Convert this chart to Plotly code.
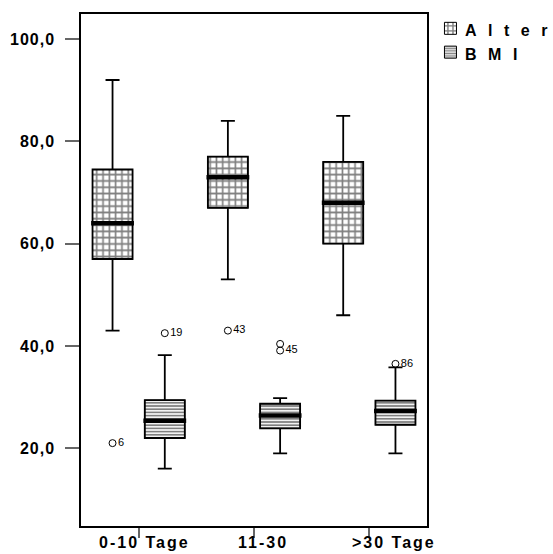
import plotly.graph_objects as go

# Gruppen (Liegedauer) und Kennwerte der Boxplots
groups = ["0-10 Tage", "11-30", ">30 Tage"]
series_names = ["Alter", "BMI"]

alter_lower = [43, 53, 46]
alter_q1 = [57, 67, 60]
alter_median = [64, 73, 68]
alter_q3 = [74.5, 77, 76]
alter_upper = [92, 84, 85]

bmi_lower = [16, 19, 19]
bmi_q1 = [22, 23.9, 24.6]
bmi_median = [25.4, 26.4, 27.3]
bmi_q3 = [29.4, 28.7, 29.3]
bmi_upper = [38.2, 29.8, 35.8]

# Ausreißer: Gruppenindex, Wert, Fallnummer
alter_out_group = [0, 1]
alter_out_value = [21, 43]
alter_out_label = ["6", "43"]

bmi_out_group = [0, 1, 1, 2]
bmi_out_value = [42.5, 40.4, 39.1, 36.5]
bmi_out_label = ["19", "", "45", "86"]

y_tickvals = [20, 40, 60, 80, 100]
y_ticktext = ["20,0", "40,0", "60,0", "80,0", "100,0"]

# Darstellung
FONT = "Liberation Sans"
OFFSET = 0.2265      # Versatz der beiden Boxen je Gruppe
BOX_W = 0.347        # Boxbreite in Achseneinheiten
MED_EXT = 0.012      # Medianlinie ragt leicht über die Box hinaus


def spaced(text, px):
    # Sperrsatz ohne Abstand hinter dem letzten Zeichen
    return f'<span style="letter-spacing:{px}px">{text[:-1]}</span>{text[-1]}'


series = [
    dict(off=-OFFSET, lower=alter_lower, q1=alter_q1, med=alter_median,
         q3=alter_q3, upper=alter_upper,
         pattern=dict(shape="+", fgcolor="black", bgcolor="white", size=6.3, solidity=0.45),
         out_g=alter_out_group, out_v=alter_out_value, out_l=alter_out_label),
    dict(off=OFFSET, lower=bmi_lower, q1=bmi_q1, med=bmi_median,
         q3=bmi_q3, upper=bmi_upper,
         pattern=dict(shape="-", fgcolor="black", bgcolor="white", size=3.2, solidity=0.55),
         out_g=bmi_out_group, out_v=bmi_out_value, out_l=bmi_out_label),
]

fig = go.Figure()

# Schraffierte Flächen der Boxen (liefern auch die Legendensymbole)
for s in series:
    xs = [i + s["off"] for i in range(len(groups))]
    fig.add_trace(go.Bar(
        x=xs, base=s["q1"], y=[b - a for a, b in zip(s["q1"], s["q3"])],
        width=BOX_W, name=" ",
        marker=dict(color="white", line=dict(width=1, color="black"), pattern=s["pattern"]),
        showlegend=True, hoverinfo="skip",
    ))

# Boxrahmen und Whisker
for s in series:
    xs = [i + s["off"] for i in range(len(groups))]
    fig.add_trace(go.Box(
        x=xs, q1=s["q1"], median=s["med"], q3=s["q3"],
        lowerfence=s["lower"], upperfence=s["upper"],
        width=BOX_W, whiskerwidth=0.35, boxpoints=False,
        fillcolor="rgba(0,0,0,0)", line=dict(color="black", width=1.8),
        showlegend=False, hoverinfo="skip",
    ))

# Kräftige Medianlinien
for s in series:
    mx, my = [], []
    for i, m in enumerate(s["med"]):
        c = i + s["off"]
        h = BOX_W / 2 + MED_EXT
        mx += [c - h, c + h, None]
        my += [m, m, None]
    fig.add_trace(go.Scatter(
        x=mx, y=my, mode="lines", line=dict(color="black", width=4.5),
        showlegend=False, hoverinfo="skip",
    ))

# Ausreißer mit Fallnummern
for s in series:
    fig.add_trace(go.Scatter(
        x=[g + s["off"] for g in s["out_g"]], y=s["out_v"],
        mode="markers+text", text=s["out_l"], textposition="middle right",
        textfont=dict(family=FONT, size=11, color="black"),
        marker=dict(symbol="circle-open", size=7, color="black", line=dict(width=1)),
        showlegend=False, hoverinfo="skip",
    ))

# Gruppenbeschriftung unter der x-Achse
label_shift = [-42, -18, -19]
for i, g in enumerate(groups):
    fig.add_annotation(
        x=i, xref="x", y=0, yref="paper", xanchor="left", yanchor="middle",
        xshift=label_shift[i], yshift=-16, showarrow=False,
        text=spaced(g, 2),
        font=dict(family=FONT, size=16, color="black", weight="bold"),
    )

# Legendentexte neben den Symbolen
legend_text_y = [0.967, 0.920]
for name, ly in zip(series_names, legend_text_y):
    fig.add_annotation(
        x=1.1098, xref="paper", y=ly, yref="paper", xanchor="left", yanchor="middle",
        xshift=-2, showarrow=False, text=spaced(name, 11.5),
        font=dict(family=FONT, size=16, color="black", weight="bold"),
    )

fig.update_layout(
    width=553, height=554,
    margin=dict(l=81, r=126, t=11, b=28),
    paper_bgcolor="white", plot_bgcolor="white",
    barmode="overlay", boxmode="overlay",
    showlegend=True,
    legend=dict(
        x=1.010, y=1.005, xanchor="left", yanchor="top",
        font=dict(family=FONT, size=16, color="black", weight="bold"),
        bgcolor="rgba(0,0,0,0)", borderwidth=0, tracegroupgap=0,
    ),
    xaxis=dict(
        range=[-0.5, 2.5], tickvals=[0, 1, 2], showticklabels=False,
        ticks="outside", ticklen=10, tickwidth=1.5, tickcolor="#666",
        showline=True, mirror=True, linecolor="black", linewidth=1.5,
        showgrid=False, zeroline=False,
    ),
    yaxis=dict(
        range=[4.8, 104.9], tickvals=y_tickvals,
        ticktext=[spaced(t, 1) for t in y_ticktext],
        tickfont=dict(family=FONT, size=16, color="black", weight="bold"),
        ticks="outside", ticklen=14, tickwidth=2, tickcolor="#666",
        ticklabelstandoff=8,
        showline=True, mirror=True, linecolor="black", linewidth=1.5,
        showgrid=False, zeroline=False,
    ),
)

fig.write_html("out.html")
